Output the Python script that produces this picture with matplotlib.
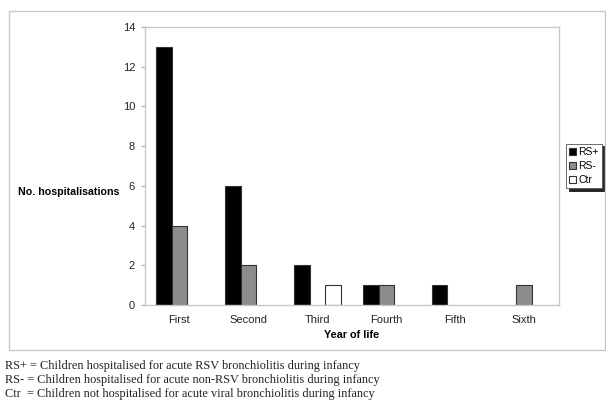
import numpy as np
import matplotlib
matplotlib.use("Agg")
import matplotlib.pyplot as plt
from matplotlib.patches import Rectangle

# =========================================================
# DATA
# =========================================================

years = ["First", "Second", "Third", "Fourth", "Fifth", "Sixth"]
rs_pos = [13, 6, 2, 1, 1, 0]
rs_neg = [4, 2, 0, 1, 0, 1]
ctr = [0, 0, 1, 0, 0, 0]

series_names = ["RS+", "RS-", "Ctr"]
series_colors = ["#000000", "#8c8c8c", "#ffffff"]

caption = [
    "RS+ = Children hospitalised for acute RSV bronchiolitis during infancy",
    "RS- = Children hospitalised for acute non-RSV bronchiolitis during infancy",
    "Ctr  = Children not hospitalised for acute viral bronchiolitis during infancy",
]

# =========================================================
# FIGURE
# =========================================================

plt.rcParams["font.family"] = ["Liberation Sans", "DejaVu Sans"]

fig = plt.figure(figsize=(6.06, 4.0), dpi=100)
ax = fig.add_axes([0.239, 0.2375, 0.683, 0.695])

# outer chart frame
fig.patches.append(Rectangle((9 / 606, 50 / 400), 596 / 606, 339 / 400,
                             transform=fig.transFigure, fill=False,
                             edgecolor="#c8c8c8", linewidth=1.0))

x = np.arange(len(years))
w = 0.225

for i, (vals, name, col) in enumerate(zip([rs_pos, rs_neg, ctr],
                                          series_names, series_colors)):
    vals = np.array(vals, dtype=float)
    # zero-height bars are left out so they don't draw an edge on the axis
    ax.bar(x + (i - 1) * w, np.where(vals > 0, vals, np.nan), width=w,
           color=col, edgecolor="#333333", linewidth=0.8, label=name)

ax.set_xlim(-0.5, 5.5)
ax.set_ylim(0, 14)
ax.set_yticks(range(0, 15, 2))
ax.set_xticks(x)
ax.set_xticklabels(years)
ax.tick_params(axis="both", labelsize=8, colors="#222222", length=3)
ax.tick_params(axis="x", length=0, pad=7)
ax.tick_params(axis="y", color="#aaaaaa", pad=4)

for s in ax.spines.values():
    s.set_color("#c8c8c8")
    s.set_linewidth(1.0)

ax.set_xlabel("Year of life", fontsize=7.8, fontweight="bold", labelpad=4)
fig.text(18 / 606, 1 - 192 / 400, "No. hospitalisations", fontsize=7.7,
         fontweight="bold", va="center", ha="left")

leg = ax.legend(loc="center left", bbox_to_anchor=(1.01, 0.5),
                fontsize=7.5, frameon=True, fancybox=False,
                shadow={"color": "black", "alpha": 0.85, "ox": 2, "oy": -2},
                handlelength=0.7, handleheight=0.7, handletextpad=0.2,
                borderpad=0.3, labelspacing=0.4, borderaxespad=0.3)
leg.get_frame().set_edgecolor("#555555")
leg.get_frame().set_linewidth(0.6)

for i, line in enumerate(caption):
    fig.text(5 / 606, 1 - (366 + 14 * i) / 400, line, fontsize=8.8,
             family=["Liberation Serif", "DejaVu Serif"], va="center",
             ha="left", color="#222222")

fig.savefig("out.png", dpi=100)
